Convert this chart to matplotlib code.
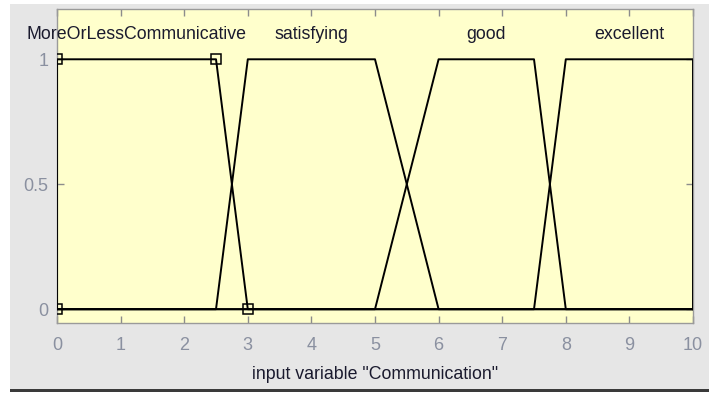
import numpy as np
import matplotlib.pyplot as plt
from matplotlib.patches import Rectangle

# membership functions of input "Communication" (trapezoids a, b, c, d)
mf_names = ["MoreOrLessCommunicative", "satisfying", "good", "excellent"]
mf_params = [
    [0.0, 0.0, 2.5, 3.0],
    [2.5, 3.0, 5.0, 6.0],
    [5.0, 6.0, 7.5, 8.0],
    [7.5, 8.0, 10.0, 10.0],
]
selected = 0  # highlighted MF gets square markers on its corners
x_range = [0, 10]
x_label = 'input variable "Communication"'


def trap_points(a, b, c, d, lo, hi):
    xs = [lo, a, b, c, d, hi]
    ys = [0, 0, 1, 1, 0, 0]
    return xs, ys


plt.rcParams['font.family'] = ['Liberation Sans', 'DejaVu Sans']

fig = plt.figure(figsize=(7.2, 3.96), dpi=100)
fig.patch.set_facecolor('white')

# gray panel behind the axes, dark rule along its bottom
fig.add_artist(Rectangle((10 / 720, 1 - 390 / 396), 699 / 720, 386 / 396,
                         transform=fig.transFigure, facecolor='#e6e6e6',
                         edgecolor='none', zorder=-2))
fig.add_artist(Rectangle((10 / 720, 1 - 392 / 396), 699 / 720, 3 / 396,
                         transform=fig.transFigure, facecolor='#3a3a3a',
                         edgecolor='none', zorder=-2))

ax = fig.add_axes([57 / 720, 1 - 322.7 / 396, 636 / 720, 313.4 / 396])
ax.set_zorder(2)
ax.set_facecolor('#ffffcc')

for i, (name, p) in enumerate(zip(mf_names, mf_params)):
    xs, ys = trap_points(*p, x_range[0], x_range[1])
    ax.plot(xs, ys, color='black', lw=1.4, zorder=3)
    if i == selected:
        mx = [p[0], p[1], p[2], p[3]]
        my = [0, 1, 1, 0]
        ax.plot(mx, my, ls='none', marker='s', ms=7.5, mfc='none',
                mec='black', mew=1.1, zorder=4)
    # label centered over the plateau
    ax.text((p[1] + p[2]) / 2, 1.10, name, ha='center', va='center',
            fontsize=12.8, color='#1a1a2e', zorder=5)

ax.set_xlim(x_range)
ax.set_ylim(-0.054, 1.2)
ax.set_xticks(np.arange(0, 11, 1))
ax.set_yticks([0, 0.5, 1])
ax.set_yticklabels(['0', '0.5', '1'])
ax.tick_params(direction='in', length=5, width=1, color='#8c8c8c',
               labelcolor='#8a90a0', labelsize=13, top=True, right=True)
ax.tick_params(axis='x', pad=10)
ax.tick_params(axis='y', pad=6)
for s in ax.spines.values():
    s.set_color('#9a9a9a')
    s.set_linewidth(1)

ax.set_xlabel(x_label, fontsize=12.8, color='#1a1a2e', labelpad=9)

fig.savefig('out.png', dpi=100)
